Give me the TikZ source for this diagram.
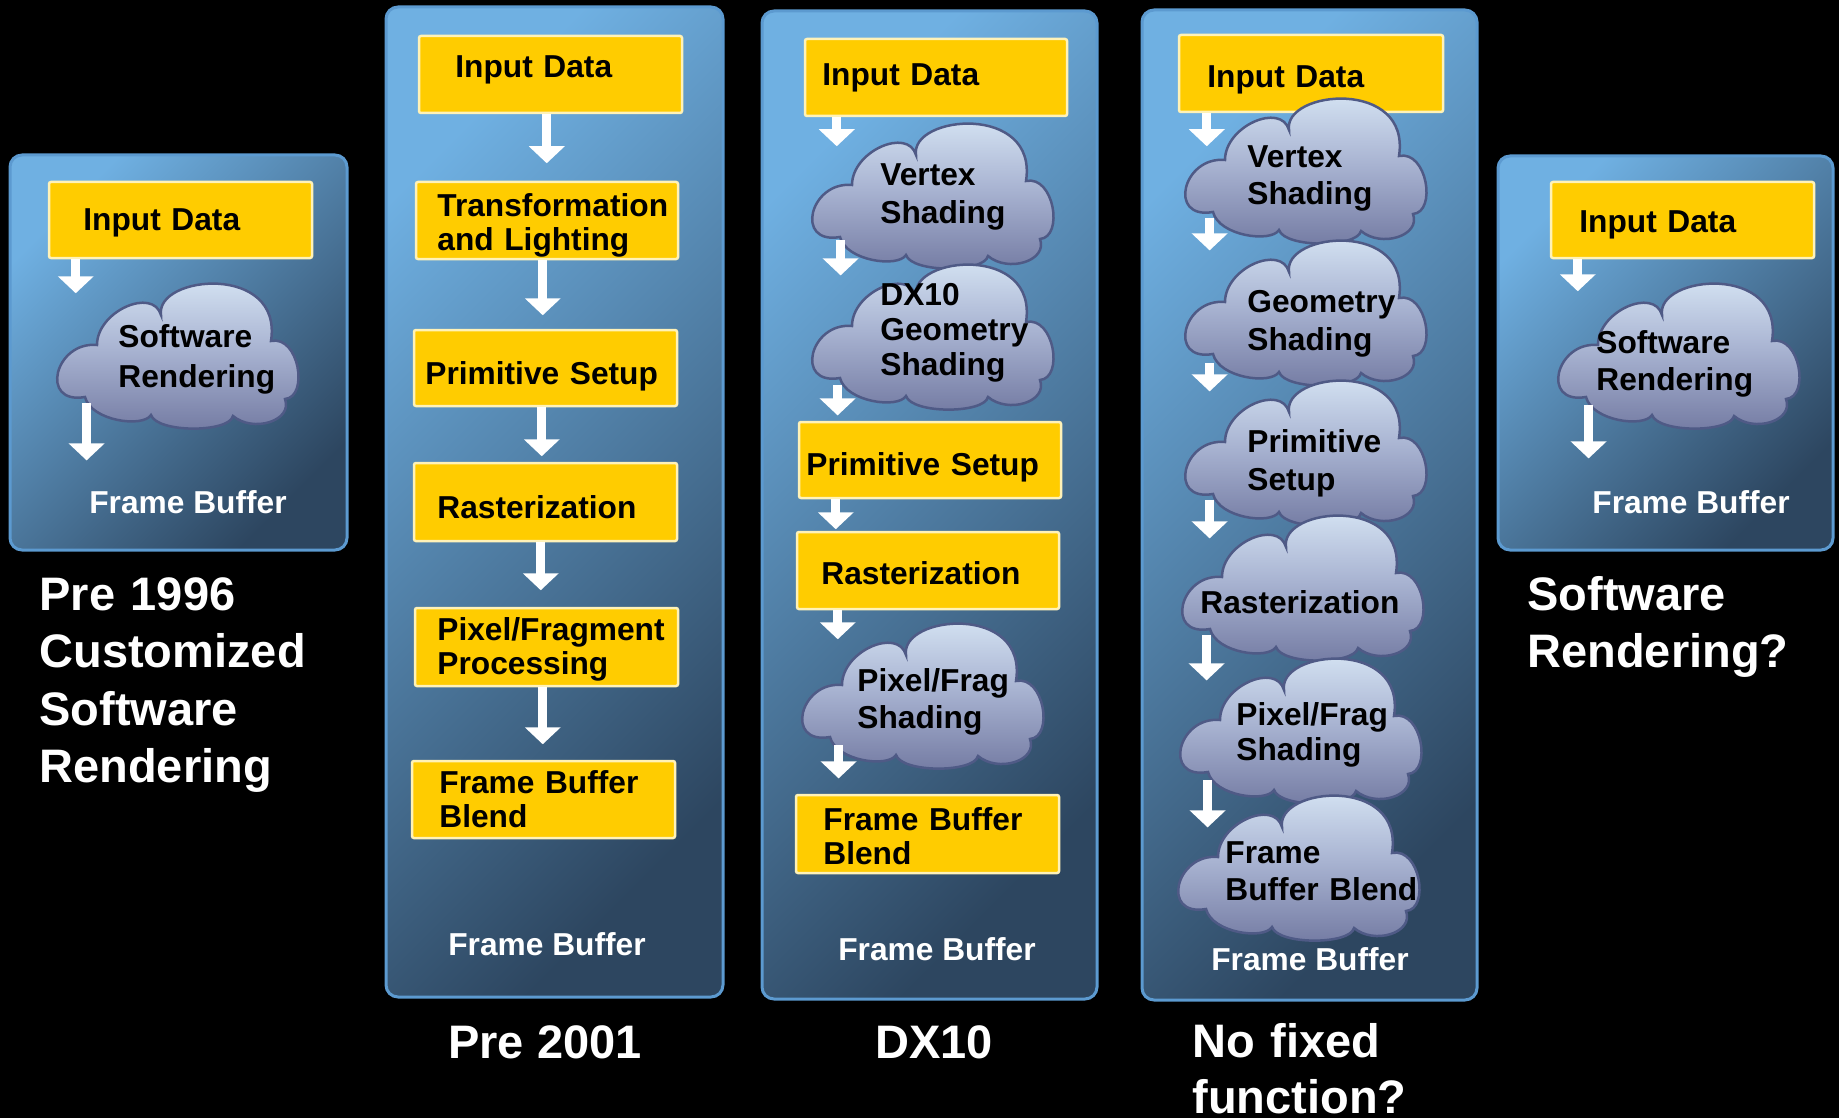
\documentclass[tikz,border=0pt]{standalone}
\usepackage{fontspec}
\setmainfont{Liberation Sans}
\usetikzlibrary{arrows.meta,calc,fit}

\definecolor{panelhi}{HTML}{6FB0E2}
\definecolor{panello}{HTML}{2D4660}
\definecolor{panelrim}{HTML}{5C9AD0}
\definecolor{stagefill}{HTML}{FFCC00}
\definecolor{stagerim}{HTML}{FFF2B8}
\definecolor{cloudtop}{HTML}{DDECF9}
\definecolor{cloudmid}{HTML}{A9B4D2}
\definecolor{cloudbot}{HTML}{737AA2}
\definecolor{cloudrim}{HTML}{4F5A86}

\tikzset{
  panel/.style={draw=panelrim, line width=1.5pt, rounded corners=6pt,
    top color=panelhi, bottom color=panello, shading angle=45},
  stage/.style={draw=stagerim, line width=1.25pt, fill=stagefill,
    inner sep=0pt, rounded corners=1pt},
  cloudshape/.style={draw=cloudrim, line width=1.25pt,
    top color=cloudtop, bottom color=cloudbot, middle color=cloudmid},
  flow/.style={draw=white, line width=4.5pt,
    -{Triangle[width=17.5pt,length=8.5pt]}},
  stagetext/.style={anchor=base west, inner sep=0pt, text width=150pt,
    align=left, font=\bfseries\fontsize{15.85}{17}\selectfont},
  cloudtext/.style={anchor=base west, inner sep=0pt, text width=150pt,
    align=left, font=\bfseries\fontsize{15.85}{#1}\selectfont},
  cloudtext/.default=19,
  buffertext/.style={anchor=base, inner sep=0pt, text=white,
    font=\bfseries\fontsize{15.85}{17}\selectfont},
  eratext/.style={anchor=base west, inner sep=0pt, text=white,
    text width=200pt, align=left,
    font=\bfseries\fontsize{23.5}{#1}\selectfont},
  eratext/.default=28.75,
  eramid/.style={anchor=base, inner sep=0pt, text=white,
    font=\bfseries\fontsize{23.5}{28}\selectfont},
}

% shaded cloud, 240 x 145 units, top-left corner at (#2,#3), named #1
\newcommand\puffcloud[3]{%
  \begin{scope}[shift={(#2,#3)}]
    \path[cloudshape] (28,114) .. controls (-18,122) and (-2,58) .. (40,62)
      .. controls (40,28) and (96,4) .. (104,32)
      .. controls (98,-8) and (226,-20) .. (214,58)
      .. controls (242,52) and (252,114) .. (228,116)
      .. controls (236,138) and (196,150) .. (176,133)
      .. controls (172,150) and (100,150) .. (94,132)
      .. controls (86,145) and (34,138) .. (28,114) -- cycle;
    \node[fit={(0,0) (240,145)}, inner sep=0pt] (#1) {};
  \end{scope}}

\begin{document}
\begin{tikzpicture}[x=0.5pt, y=-0.5pt]
\useasboundingbox (0,0) rectangle (1839,1118);
\fill[black] (0,0) rectangle (1839,1118);

% ---------- panels ----------
\path[panel] (10,155) rectangle (347,550);
\path[panel] (386,7) rectangle (723,997);
\path[panel] (762,11) rectangle (1097,999);
\path[panel] (1142,10) rectangle (1477,1000);
\path[panel] (1498,156) rectangle (1833,550);

% ---------- stage boxes ----------
\node[stage, fit={(49,182) (312,258)}] (b1a) {};
\node[stage, fit={(419,36) (682,113)}] (b2a) {};
\node[stage, fit={(416,182) (678,259)}] (b2b) {};
\node[stage, fit={(414,330) (677,406)}] (b2c) {};
\node[stage, fit={(414,463) (677,541)}] (b2d) {};
\node[stage, fit={(415,608) (678,686)}] (b2e) {};
\node[stage, fit={(412,761) (675,838)}] (b2f) {};
\node[stage, fit={(805,39) (1067,116)}] (b3a) {};
\node[stage, fit={(799,422) (1061,498)}] (b3b) {};
\node[stage, fit={(797,532) (1059,609)}] (b3c) {};
\node[stage, fit={(796,795) (1059,873)}] (b3d) {};
\node[stage, fit={(1179,35) (1443,112)}] (b4a) {};
\node[stage, fit={(1551,182) (1814,258)}] (b5a) {};

% ---------- flow arrows ----------
\draw[flow] ($(b1a.south west)+(28,0)$) -- ++(0,34);
\draw[flow] ($(b2a.south west)+(129,0)$) -- ++(0,49);
\draw[flow] ($(b2b.south west)+(128,0)$) -- ++(0,55);
\draw[flow] ($(b2c.south west)+(129,0)$) -- ++(0,49);
\draw[flow] ($(b2d.south west)+(128,0)$) -- ++(0,48);
\draw[flow] ($(b2e.south west)+(129,0)$) -- ++(0,57);
\draw[flow] ($(b3a.south west)+(33,0)$) -- ++(0,29);
\draw[flow] ($(b3b.south west)+(38,0)$) -- ++(0,30);
\draw[flow] ($(b3c.south west)+(42,0)$) -- ++(0,29);
\draw[flow] ($(b4a.south west)+(29,0)$) -- ++(0,33);
\draw[flow] ($(b5a.south west)+(28,0)$) -- ++(0,32);

% ---------- clouds ----------
\puffcloud{c1a}{57}{283}
\puffcloud{c3a}{812}{123}
\puffcloud{c3b}{812}{264}
\puffcloud{c3c}{802}{623}
\puffcloud{c4a}{1185}{98}
\puffcloud{c4b}{1185}{240}
\puffcloud{c4c}{1185}{380}
\puffcloud{c4d}{1182}{515}
\puffcloud{c4e}{1180}{658}
\puffcloud{c4f}{1178}{795}
\puffcloud{c5a}{1558}{283}

% arrows leaving the clouds
\draw[flow] ($(c1a.south west)+(30,-25)$) -- ++(0,57);
\draw[flow] ($(c3a.south west)+(29,-28)$) -- ++(0,35);
\draw[flow] ($(c3b.south west)+(26,-24)$) -- ++(0,30);
\draw[flow] ($(c3c.south west)+(37,-23)$) -- ++(0,33);
\draw[flow] ($(c4a.south west)+(25,-25)$) -- ++(0,32);
\draw[flow] ($(c4b.south west)+(25,-22)$) -- ++(0,28);
\draw[flow] ($(c4c.south west)+(25,-25)$) -- ++(0,38);
\draw[flow] ($(c4d.south west)+(25,-25)$) -- ++(0,45);
\draw[flow] ($(c4e.south west)+(28,-23)$) -- ++(0,47);
\draw[flow] ($(c5a.south west)+(31,-23)$) -- ++(0,53);

% ---------- texts: panel 1 ----------
\node[stagetext] (t1a) at (83,230) {Input Data};
\node[cloudtext=20] (t1b) at (118,347) {Software\\Rendering};
\node[buffertext] (f1) at (188,513) {Frame Buffer};
\node[eratext] (e1) at (39,610) {Pre 1996\\Customized\\Software\\Rendering};

% ---------- texts: panel 2 ----------
\node[stagetext] (t2a) at (455,78) {Input Data};
\node[stagetext] (t2b) at (437,217) {Transformation\\and Lighting};
\node[stagetext] (t2c) at (425,384) {Primitive Setup};
\node[stagetext] (t2d) at (437,518) {Rasterization};
\node[stagetext] (t2e) at (437,640) {Pixel/Fragment\\Processing};
\node[stagetext] (t2f) at (439,793) {Frame Buffer\\Blend};
\node[buffertext] (f2) at (547,955) {Frame Buffer};
\node[eramid] (e2) at (545,1058) {Pre 2001};

% ---------- texts: panel 3 ----------
\node[stagetext] (t3a) at (822,86) {Input Data};
\node[cloudtext] (t3b) at (880,185) {Vertex\\Shading};
\node[cloudtext=17.5] (t3c) at (880,305) {DX10\\Geometry\\Shading};
\node[stagetext] (t3d) at (806,475) {Primitive Setup};
\node[stagetext] (t3e) at (821,584) {Rasterization};
\node[cloudtext=18.5] (t3f) at (857,691) {Pixel/Frag\\Shading};
\node[stagetext] (t3g) at (823,830) {Frame Buffer\\Blend};
\node[buffertext] (f3) at (937,960) {Frame Buffer};
\node[eramid] (e3) at (934,1058) {DX10};

% ---------- texts: panel 4 ----------
\node[stagetext] (t4a) at (1207,88) {Input Data};
\node[cloudtext=18.5] (t4b) at (1247,168) {Vertex\\Shading};
\node[cloudtext] (t4c) at (1247,312) {Geometry\\Shading};
\node[cloudtext] (t4d) at (1247,452) {Primitive\\Setup};
\node[cloudtext] (t4e) at (1200,613) {Rasterization};
\node[cloudtext=17.5] (t4f) at (1236,725) {Pixel/Frag\\Shading};
\node[cloudtext=18.5] (t4g) at (1225,863) {Frame\\Buffer Blend};
\node[buffertext] (f4) at (1310,970) {Frame Buffer};
\node[eratext=28] (e4) at (1192,1057) {No fixed\\function?};

% ---------- texts: panel 5 ----------
\node[stagetext] (t5a) at (1579,233) {Input Data};
\node[cloudtext=18.5] (t5b) at (1596,353) {Software\\Rendering};
\node[buffertext] (f5) at (1691,513) {Frame Buffer};
\node[eratext] (e5) at (1527,610) {Software\\Rendering?};
\end{tikzpicture}
\end{document}
